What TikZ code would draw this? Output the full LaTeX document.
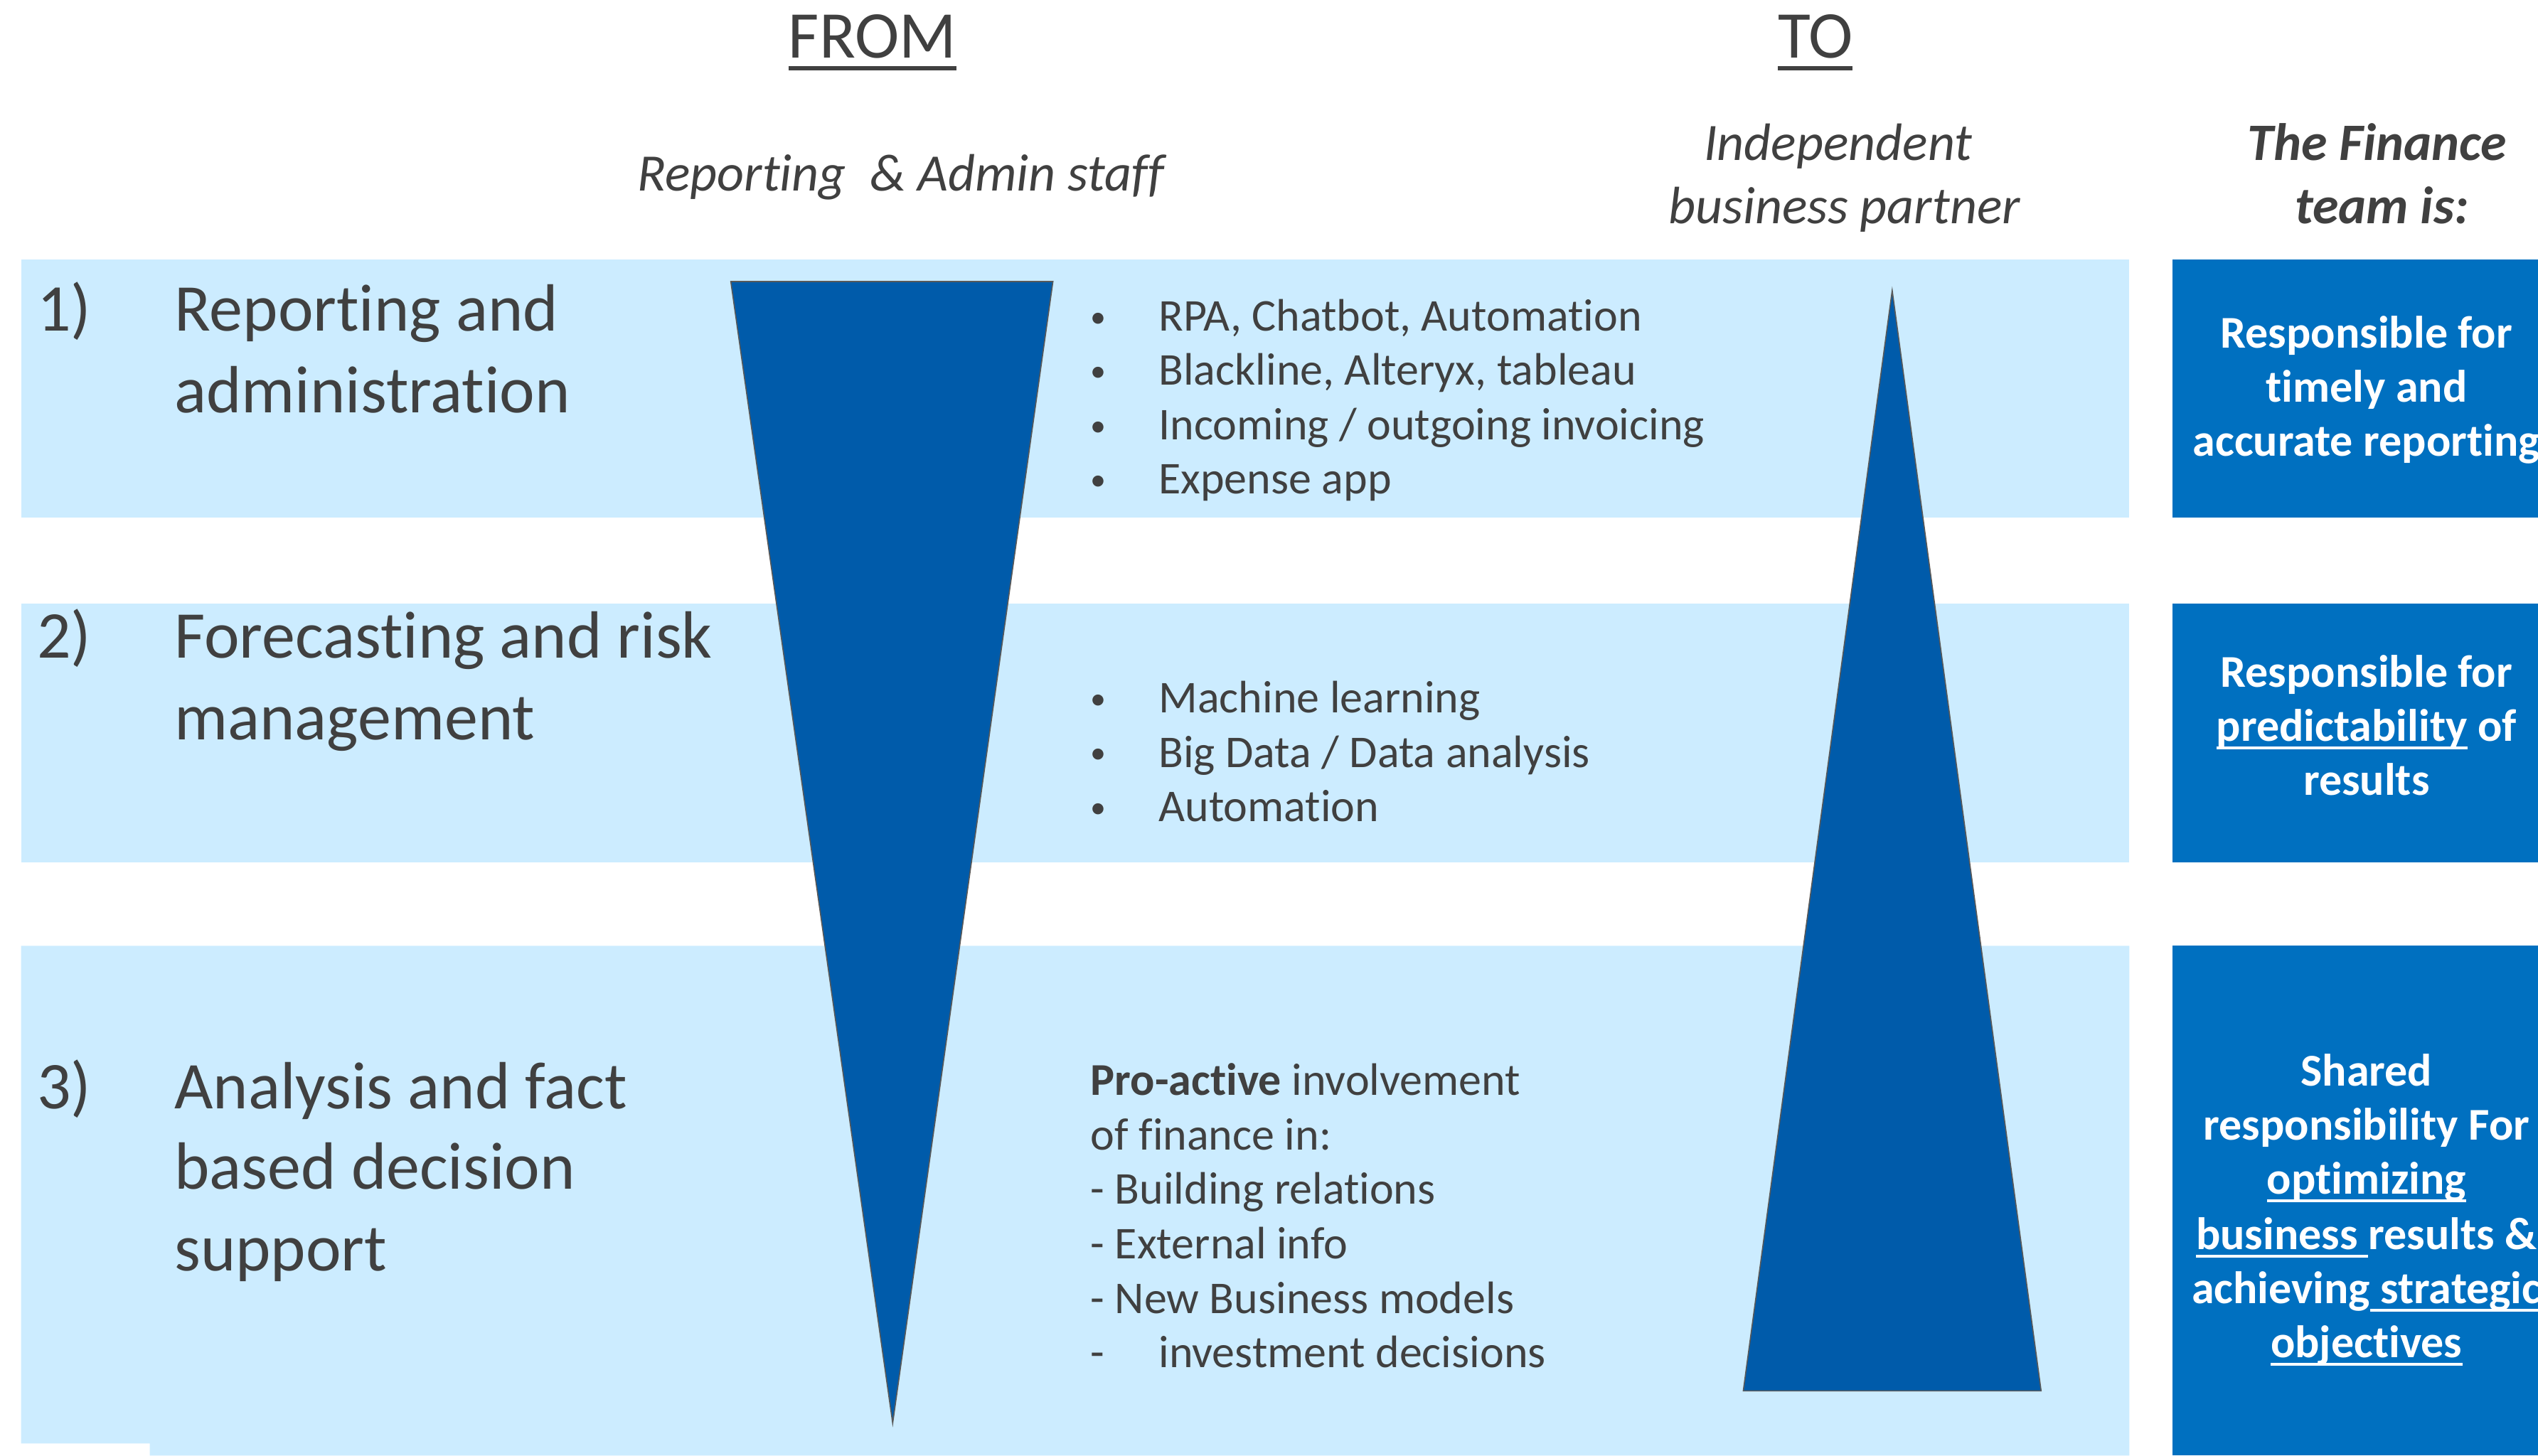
\documentclass[tikz,border=0pt]{standalone}
\usepackage{fontspec}
\setmainfont{Carlito}[Ligatures=NoCommon]
\usepackage{xcolor}
\usepackage{tikz}
\usetikzlibrary{positioning}
\definecolor{lightband}{HTML}{CCECFF}
\definecolor{darkbox}{HTML}{0070C0}
\definecolor{wedgeblue}{HTML}{005BAA}
\definecolor{textgrey}{HTML}{404040}
\newcommand\undl[1]{\setbox0\hbox{#1}\rlap{\vrule height -0.12em depth 0.18em width \wd0}\box0\relax}
\newcommand\itemdot{\raisebox{1.3pt}{\fontsize{11}{19}\selectfont •}}

\begin{document}
\begin{tikzpicture}[
  every node/.style={inner sep=0pt,text=textgrey},
  heading/.style={anchor=base,font=\fontsize{23.5}{28}\selectfont},
  subhead/.style={anchor=base,font=\fontsize{18.5}{22}\selectfont\itshape},
  rowtitle/.style={anchor=base west,font=\fontsize{23.5}{28}\selectfont},
  itemtext/.style={anchor=base west,font=\fontsize{16}{19}\selectfont},
  boxtext/.style={anchor=base,text=white,font=\fontsize{16}{19}\selectfont\bfseries},
  wedge/.style={fill=wedgeblue,draw=gray!70!black,line width=0.4pt}]
  \useasboundingbox (0,0) rectangle (31.36,17.99);

  % Rows
  \fill[lightband] (0.26,11.59) rectangle (26.31,14.78);
  \fill[lightband] (0.26,7.33) rectangle (26.31,10.53);
  \fill[lightband] (0.26,0.15) -- (1.85,0.15) -- (1.85,0) -- (26.31,0) -- (26.31,6.30) -- (0.26,6.30) -- cycle;

  % Finance team boxes
  \fill[darkbox] (26.84,11.59) rectangle (31.62,14.78);
  \fill[darkbox] (26.84,7.33) rectangle (31.62,10.53);
  \fill[darkbox] (26.84,0) rectangle (31.62,6.30);

  % From / to wedges
  \filldraw[wedge] (9.03,14.51) -- (13.01,14.51) -- (11.03,0.40) -- cycle;
  \filldraw[wedge] (23.38,14.40) -- (25.22,0.80) -- (21.54,0.80) -- cycle;

  % Headings
  \node[heading] (from) at (10.78,17.27) {\undl{FROM}};
  \node[heading] (to) at (22.43,17.27) {\undl{TO}};
  \node[subhead] (fromrole) at (11.13,15.63) {Reporting~ \& Admin staff};
  \node[subhead] (torole1) at (22.71,16.01) {Independent};
  \node[subhead] (torole2) at (22.79,15.23) {business partner};
  \node[subhead,font=\fontsize{18.5}{22}\selectfont\bfseries\itshape] (team1) at (29.37,16.01) {The Finance};
  \node[subhead,font=\fontsize{18.5}{22}\selectfont\bfseries\itshape] (team2) at (29.43,15.23) {team is:};

  % Row titles
  \node[rowtitle] (num1) at (0.45,13.90) {1)};
  \node[rowtitle] (title1a) at (2.15,13.90) {Reporting and};
  \node[rowtitle] (title1b) at (2.15,12.89) {administration};
  \node[rowtitle] (num2) at (0.45,9.86) {2)};
  \node[rowtitle] (title2a) at (2.15,9.86) {Forecasting and risk};
  \node[rowtitle] (title2b) at (2.15,8.85) {management};
  \node[rowtitle] (num3) at (0.45,4.29) {3)};
  \node[rowtitle] (title3a) at (2.15,4.29) {Analysis and fact};
  \node[rowtitle] (title3b) at (2.15,3.29) {based decision};
  \node[rowtitle] (title3c) at (2.15,2.28) {support};

  % Tools per row
  \foreach \txt [count=\i] in {{RPA, Chatbot, Automation},{Blackline, Alteryx, tableau},{Incoming / outgoing invoicing},{Expense app}} {
    \node[itemtext] (dot1-\i) at (13.47,{13.90-0.672*(\i-1)}) {\itemdot};
    \node[itemtext] (item1-\i) at (14.31,{13.90-0.672*(\i-1)}) {\txt};
  }
  \foreach \txt [count=\i] in {{Machine learning},{Big Data / Data analysis},{Automation}} {
    \node[itemtext] (dot2-\i) at (13.47,{9.18-0.672*(\i-1)}) {\itemdot};
    \node[itemtext] (item2-\i) at (14.31,{9.18-0.672*(\i-1)}) {\txt};
  }
  \node[itemtext] (item3-1) at (13.47,4.45) {\textbf{Pro-active} involvement};
  \node[itemtext] (item3-2) at (13.47,3.78) {of finance in:};
  \node[itemtext] (item3-3) at (13.47,3.11) {- Building relations};
  \node[itemtext] (item3-4) at (13.47,2.43) {- External info};
  \node[itemtext] (item3-5) at (13.47,1.76) {- New Business models};
  \node[itemtext] (dash3-6) at (13.47,1.09) {-};
  \node[itemtext] (item3-6) at (14.31,1.09) {investment decisions};

  % Responsibility texts
  \node[boxtext] (resp1a) at (29.24,13.69) {Responsible for};
  \node[boxtext] (resp1b) at (29.24,13.02) {timely and};
  \node[boxtext] (resp1c) at (29.24,12.35) {accurate reporting};
  \node[boxtext] (resp2a) at (29.24,9.50) {Responsible for};
  \node[boxtext] (resp2b) at (29.24,8.83) {\undl{predictability} of};
  \node[boxtext] (resp2c) at (29.24,8.16) {results};
  \node[boxtext] (resp3a) at (29.24,4.57) {Shared};
  \node[boxtext] (resp3b) at (29.24,3.90) {responsibility For};
  \node[boxtext] (resp3c) at (29.24,3.23) {\undl{optimizing}};
  \node[boxtext] (resp3d) at (29.24,2.55) {\undl{business }results \&};
  \node[boxtext] (resp3e) at (29.24,1.88) {achieving\undl{ strategic}};
  \node[boxtext] (resp3f) at (29.24,1.21) {\undl{objectives}};
\end{tikzpicture}
\end{document}
